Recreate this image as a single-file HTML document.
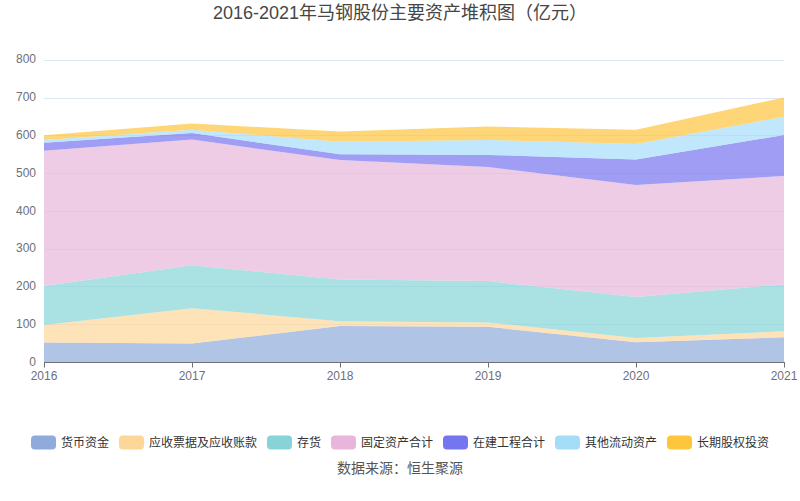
<!DOCTYPE html>
<html lang="zh-CN"><head><meta charset="utf-8"><style>
html,body{margin:0;padding:0;background:#fff;width:800px;height:501px;overflow:hidden}
svg{display:block}
text{font-family:"Liberation Sans",sans-serif}
.ax{font-size:12px;fill:#6E7079}
.title{font-size:18px;fill:#464646}
.leg{font-size:12px;fill:#333}
.foot{font-size:14px;fill:#555}
</style></head><body>
<svg width="800" height="501" viewBox="0 0 800 501">
<line x1="44" y1="60.5" x2="784" y2="60.5" stroke="#E0E6F1" stroke-width="1"/>
<line x1="44" y1="98.5" x2="784" y2="98.5" stroke="#E0E6F1" stroke-width="1"/>
<line x1="44" y1="135.5" x2="784" y2="135.5" stroke="#E0E6F1" stroke-width="1"/>
<line x1="44" y1="173.5" x2="784" y2="173.5" stroke="#E0E6F1" stroke-width="1"/>
<line x1="44" y1="211.5" x2="784" y2="211.5" stroke="#E0E6F1" stroke-width="1"/>
<line x1="44" y1="249.5" x2="784" y2="249.5" stroke="#E0E6F1" stroke-width="1"/>
<line x1="44" y1="286.5" x2="784" y2="286.5" stroke="#E0E6F1" stroke-width="1"/>
<line x1="44" y1="324.5" x2="784" y2="324.5" stroke="#E0E6F1" stroke-width="1"/>
<polygon points="44,342.5 192,343.5 340,325.9 488,326.8 636,342.3 784,337.3 784,362 636,362 488,362 340,362 192,362 44,362" fill="#8EABDB" fill-opacity="0.7"/>
<polygon points="44,325 192,308.2 340,321.3 488,322.5 636,338.1 784,331.3 784,337.3 636,342.3 488,326.8 340,325.9 192,343.5 44,342.5" fill="#FDD79A" fill-opacity="0.7"/>
<polygon points="44,285.9 192,265.3 340,279.6 488,281.1 636,296.9 784,284.4 784,331.3 636,338.1 488,322.5 340,321.3 192,308.2 44,325" fill="#86D4D7" fill-opacity="0.7"/>
<polygon points="44,150.7 192,139.6 340,160 488,167.1 636,185.1 784,176 784,284.4 636,296.9 488,281.1 340,279.6 192,265.3 44,285.9" fill="#E7B6DA" fill-opacity="0.7"/>
<polygon points="44,142.7 192,133 340,154.2 488,154.9 636,159.6 784,135 784,176 636,185.1 488,167.1 340,160 192,139.6 44,150.7" fill="#7675F0" fill-opacity="0.7"/>
<polygon points="44,140 192,129.7 340,141.8 488,139.9 636,143.9 784,116.8 784,135 636,159.6 488,154.9 340,154.2 192,133 44,142.7" fill="#A5DDF9" fill-opacity="0.7"/>
<polygon points="44,135.2 192,123.4 340,131.5 488,126.6 636,129.8 784,97.5 784,116.8 636,143.9 488,139.9 340,141.8 192,129.7 44,140" fill="#FFC53D" fill-opacity="0.7"/>
<line x1="44" y1="362.5" x2="785" y2="362.5" stroke="#6E7079" stroke-width="1"/>
<line x1="44.5" y1="362" x2="44.5" y2="367.5" stroke="#6E7079" stroke-width="1"/>
<line x1="192.5" y1="362" x2="192.5" y2="367.5" stroke="#6E7079" stroke-width="1"/>
<line x1="340.5" y1="362" x2="340.5" y2="367.5" stroke="#6E7079" stroke-width="1"/>
<line x1="488.5" y1="362" x2="488.5" y2="367.5" stroke="#6E7079" stroke-width="1"/>
<line x1="636.5" y1="362" x2="636.5" y2="367.5" stroke="#6E7079" stroke-width="1"/>
<line x1="784.5" y1="362" x2="784.5" y2="367.5" stroke="#6E7079" stroke-width="1"/>
<text x="36" y="366" text-anchor="end" class="ax">0</text>
<text x="36" y="328" text-anchor="end" class="ax">100</text>
<text x="36" y="290" text-anchor="end" class="ax">200</text>
<text x="36" y="252" text-anchor="end" class="ax">300</text>
<text x="36" y="215" text-anchor="end" class="ax">400</text>
<text x="36" y="177" text-anchor="end" class="ax">500</text>
<text x="36" y="139" text-anchor="end" class="ax">600</text>
<text x="36" y="101" text-anchor="end" class="ax">700</text>
<text x="36" y="63" text-anchor="end" class="ax">800</text>
<text x="44" y="379.5" text-anchor="middle" class="ax">2016</text>
<text x="192" y="379.5" text-anchor="middle" class="ax">2017</text>
<text x="340" y="379.5" text-anchor="middle" class="ax">2018</text>
<text x="488" y="379.5" text-anchor="middle" class="ax">2019</text>
<text x="636" y="379.5" text-anchor="middle" class="ax">2020</text>
<text x="784" y="379.5" text-anchor="middle" class="ax">2021</text>
<text x="400" y="18.8" text-anchor="middle" class="title">2016-2021年马钢股份主要资产堆积图（亿元）</text>
<rect x="31" y="435.5" width="25" height="14" rx="4" ry="4" fill="#8EABDB"/>
<text x="61" y="446.5" class="leg">货币资金</text>
<rect x="119" y="435.5" width="25" height="14" rx="4" ry="4" fill="#FDD79A"/>
<text x="149" y="446.5" class="leg">应收票据及应收账款</text>
<rect x="267" y="435.5" width="25" height="14" rx="4" ry="4" fill="#86D4D7"/>
<text x="297" y="446.5" class="leg">存货</text>
<rect x="331" y="435.5" width="25" height="14" rx="4" ry="4" fill="#E7B6DA"/>
<text x="361" y="446.5" class="leg">固定资产合计</text>
<rect x="443" y="435.5" width="25" height="14" rx="4" ry="4" fill="#7675F0"/>
<text x="473" y="446.5" class="leg">在建工程合计</text>
<rect x="555" y="435.5" width="25" height="14" rx="4" ry="4" fill="#A5DDF9"/>
<text x="585" y="446.5" class="leg">其他流动资产</text>
<rect x="667" y="435.5" width="25" height="14" rx="4" ry="4" fill="#FFC53D"/>
<text x="697" y="446.5" class="leg">长期股权投资</text>
<text x="400" y="472.5" text-anchor="middle" class="foot">数据来源：恒生聚源</text>
</svg>
</body></html>
